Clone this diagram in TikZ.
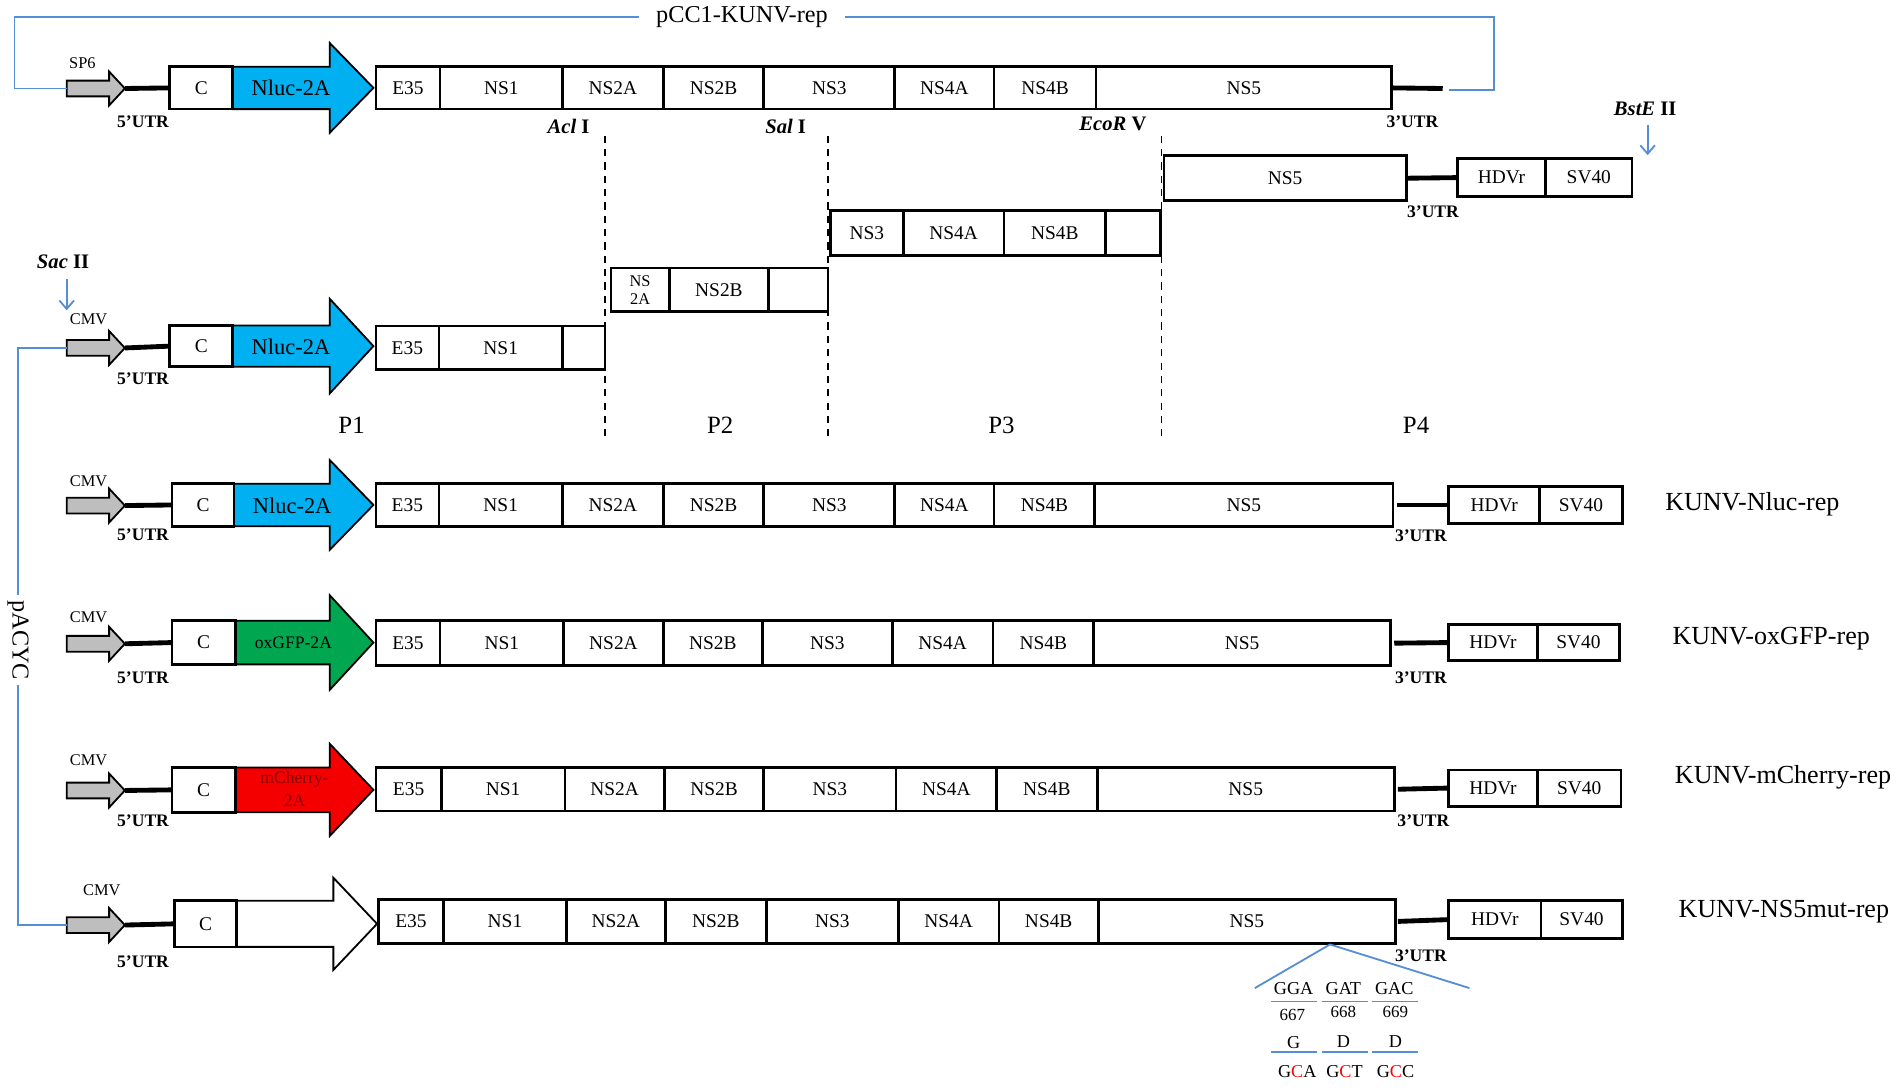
\documentclass[tikz,border=0pt]{standalone}
\usepackage{fontspec}
\setmainfont{Liberation Serif}
\usetikzlibrary{arrows.meta}
\definecolor{lblue}{RGB}{85,142,213}
\definecolor{nluc}{RGB}{0,176,240}
\definecolor{gfp}{RGB}{0,166,80}
\definecolor{cherry}{RGB}{245,0,0}
\definecolor{cherrytxt}{RGB}{140,0,0}
\definecolor{promo}{RGB}{190,190,190}
\tikzset{
  seg/.style={draw, line width=2.2pt, fill=white, inner sep=0pt, outer sep=0pt, anchor=west, font=\fontsize{16}{18}\selectfont},
  utr/.style={line width=4pt},
  utrlab/.style={font=\bfseries\fontsize{14.5}{16}\selectfont},
  promlab/.style={font=\fontsize{13.5}{15}\selectfont},
  bline/.style={draw=lblue, line width=1.5pt},
  bstick/.style={bline, -{Straight Barb[length=7pt,width=12pt]}},
  cutline/.style={line width=1.2pt, dash pattern=on 6pt off 5pt},
  enz/.style={font=\bfseries\fontsize{17}{19}\selectfont},
  plab/.style={font=\fontsize{20.5}{22}\selectfont},
  cname/.style={font=\fontsize{21.5}{24}\selectfont, anchor=west},
  codon/.style={font=\fontsize{15}{17}\selectfont},
  num/.style={font=\fontsize{14}{16}\selectfont},
  repl/.style={font=\fontsize{18.5}{20}\selectfont},
  repls/.style={font=\fontsize{14.5}{16}\selectfont},
}
% gray promoter arrow: name, y
\newcommand\promarrow[2]{%
  \draw[line width=1.5pt, fill=promo] (55,#2-6.5) -- (90,#2-6.5) -- (90,#2-14) -- (103,#2)
     -- (90,#2+14) -- (90,#2+6.5) -- (55,#2+6.5) -- cycle;
  \coordinate (#1-tail) at (55,#2);
  \coordinate (#1-tip) at (103,#2);}
% reporter block arrow: x0, xh, xt, y, half body, half head, fill
\newcommand\reparrow[7]{%
  \draw[line width=1.5pt, fill=#7] (#1,#4-#5) -- (#2,#4-#5) -- (#2,#4-#6) -- (#3,#4)
     -- (#2,#4+#6) -- (#2,#4+#5) -- (#1,#4+#5) -- cycle;}
% row of segments: prefix, y, height, list
\newcommand\generow[4]{%
  \foreach \n/\a/\b/\t in {#4} {
    \node[seg, minimum width={(\b-\a)*1pt}, minimum height=#3 pt] (#1-\n) at (\a,#2) {\t};
  }}
\begin{document}
\begin{tikzpicture}[x=1pt,y=-1pt]
\useasboundingbox[fill=white] (0,0) rectangle (1568,897);

% ================= Row 1: pCC1-KUNV-rep =================
\promarrow{r1p}{73}
\node[promlab] (r1sp6) at (68,52) {SP6};
\reparrow{192}{272}{308}{72.5}{17.5}{37}{nluc}
\node[repl] (r1rep) at (240,72.5) {Nluc-2A};
\node[seg, minimum width=52pt, minimum height=35pt] (r1-c) at (140,72.5) {C};
\generow{r1}{72.5}{35}{e35/310/363/E35, ns1/363/464/NS1, ns2a/464/547/NS2A, ns2b/547/630/NS2B, ns3/630/738/NS3, ns4a/738/820/NS4A, ns4b/820/904/NS4B, ns5/904/1148/NS5}
\coordinate (r1-end) at (1190,73);
\draw[utr] (r1p-tip) -- (r1-c.west);
\draw[utr] (r1-ns5.east) -- (r1-end);
\node[utrlab] (r1u5) at (118,100) {5’UTR};
\node[utrlab] (r1u3) at (1165,100) {3’UTR};
\node[font=\fontsize{20}{22}\selectfont, inner xsep=14pt] (pcc) at (612,14) {pCC1-KUNV-rep};
\coordinate (r1-bend) at (1195,74);
\draw[bline] (r1p-tail) -- (12,73) |- (pcc.west);
\draw[bline] (pcc.east) -| (1232,74) -- (r1-bend);

% enzymes
\node[enz] (acl) at (469,104) {\textit{Acl} I};
\node[enz] (sal) at (648,104) {\textit{Sal} I};
\node[enz] (eco) at (918,102) {\textit{EcoR} V};
\coordinate (d1a) at (499,112); \coordinate (d1b) at (499,362);
\coordinate (d2a) at (683,112); \coordinate (d2b) at (683,362);
\coordinate (d3a) at (958,112); \coordinate (d3b) at (958,362);
\draw[cutline] (d1a) -- (d1b);
\draw[cutline] (d2a) -- (d2b);
\draw[cutline] (d3a) -- (d3b);

% ================= Fragment P4 =================
\generow{f4}{147}{37}{ns5/960/1160/NS5}
\generow{f4}{146.5}{31}{hdv/1202/1275/HDVr, sv/1275/1346/SV40}
\draw[utr] (f4-ns5.east) -- (f4-hdv.west);
\node[utrlab] (f4u3) at (1182,175) {3’UTR};
\node[enz] (bste) at (1357,90) {\textit{BstE} II};
\coordinate (bstetip) at (1359,128);
\draw[bstick] (1359,103) -- (bstetip);

% ================= Fragment P3 =================
\generow{f3}{192}{37}{ns3/685/745/NS3, ns4a/745/828/NS4A, ns4b/828/912/NS4B, x/912/957/}

% ================= Fragment P2 =================
\node[seg, minimum width=48pt, minimum height=36pt, align=center, font=\fontsize{13.5}{15}\selectfont] (f2-ns2a) at (504,239) {NS\\2A};
\generow{f2}{239}{36}{ns2b/552/634/NS2B, x/634/683/}

% ================= Fragment P1 =================
\promarrow{p1p}{287}
\node[promlab] (p1cmv) at (73,263) {CMV};
\node[enz] (sac) at (52,216) {\textit{Sac} II};
\coordinate (sactip) at (55,256);
\draw[bstick] (55,230) -- (sactip);
\reparrow{192}{272}{308}{285.5}{17}{39}{nluc}
\node[repl] (p1rep) at (240,286) {Nluc-2A};
\node[seg, minimum width=52pt, minimum height=34pt] (p1-c) at (140,285.5) {C};
\generow{p1}{287}{36}{e35/310/362/E35, ns1/362/464/NS1, x/464/499/}
\draw[utr] (p1p-tip) -- (p1-c.west);
\node[utrlab] (p1u5) at (118,312) {5’UTR};

\node[plab] (lp1) at (290,351) {P1};
\node[plab] (lp2) at (594,351) {P2};
\node[plab] (lp3) at (826,351) {P3};
\node[plab] (lp4) at (1168,351) {P4};

% ================= Row 3: KUNV-Nluc-rep =================
\promarrow{r3p}{417}
\node[promlab] (r3cmv) at (73,397) {CMV};
\reparrow{193}{272}{308}{416.5}{17.5}{37}{nluc}
\node[repl] (r3rep) at (241,417) {Nluc-2A};
\node[seg, minimum width=51pt, minimum height=35pt] (r3-c) at (142,416.5) {C};
\generow{r3}{416.5}{35}{e35/310/362/E35, ns1/362/464/NS1, ns2a/464/547/NS2A, ns2b/547/630/NS2B, ns3/630/738/NS3, ns4a/738/820/NS4A, ns4b/820/903/NS4B, ns5/903/1149/NS5}
\generow{r3}{416.5}{31}{hdv/1195/1270/HDVr, sv/1270/1338/SV40}
\draw[utr] (r3p-tip) -- (r3-c.west);
\draw[utr] (r3-ns5.east) ++(3,0) -- (r3-hdv.west);
\node[utrlab] (r3u5) at (118,441) {5’UTR};
\node[utrlab] (r3u3) at (1172,442) {3’UTR};
\node[cname] (n3) at (1370,416) {KUNV-Nluc-rep};

% ================= Row 4: KUNV-oxGFP-rep =================
\promarrow{r4p}{531}
\node[promlab] (r4cmv) at (73,509) {CMV};
\reparrow{194}{272}{308}{530}{18}{39}{gfp}
\node[repls] (r4rep) at (242,530) {oxGFP-2A};
\node[seg, minimum width=52pt, minimum height=36pt] (r4-c) at (142,530) {C};
\generow{r4}{530.5}{37}{e35/310/363/E35, ns1/363/465/NS1, ns2a/465/547/NS2A, ns2b/547/629/NS2B, ns3/629/736/NS3, ns4a/736/819/NS4A, ns4b/819/902/NS4B, ns5/902/1147/NS5}
\generow{r4}{530}{30}{hdv/1195/1268/HDVr, sv/1268/1336/SV40}
\draw[utr] (r4p-tip) -- (r4-c.west);
\draw[utr] (r4-ns5.east) ++(3,0) -- (r4-hdv.west);
\node[utrlab] (r4u5) at (118,559) {5’UTR};
\node[utrlab] (r4u3) at (1172,559) {3’UTR};
\node[cname] (n4) at (1376,527) {KUNV-oxGFP-rep};

% ================= Row 5: KUNV-mCherry-rep =================
\promarrow{r5p}{652}
\node[promlab] (r5cmv) at (73,627) {CMV};
\reparrow{194}{272}{308}{651.5}{18.5}{38}{cherry}
\node[font=\fontsize{14.5}{19}\selectfont, text=cherrytxt, align=center] (r5rep) at (243,651) {mCherry-\\2A};
\node[seg, minimum width=52pt, minimum height=37pt] (r5-c) at (142,651.5) {C};
\generow{r5}{651}{36}{e35/310/364/E35, ns1/364/466/NS1, ns2a/466/548/NS2A, ns2b/548/630/NS2B, ns3/630/739/NS3, ns4a/739/822/NS4A, ns4b/822/905/NS4B, ns5/905/1150/NS5}
\generow{r5}{650}{30}{hdv/1195/1268/HDVr, sv/1268/1337/SV40}
\draw[utr] (r5p-tip) -- (r5-c.west);
\draw[utr] (r5-ns5.east) ++(3,0) -- (r5-hdv.west);
\node[utrlab] (r5u5) at (118,677) {5’UTR};
\node[utrlab] (r5u3) at (1174,677) {3’UTR};
\node[cname] (n5) at (1378,641) {KUNV-mCherry-rep};

% ================= Row 6: KUNV-NS5mut-rep =================
\promarrow{r6p}{763}
\node[promlab] (r6cmv) at (84,734) {CMV};
\reparrow{195}{275}{311}{762}{19}{38}{white}
\node[seg, minimum width=51pt, minimum height=38pt] (r6-c) at (144,762) {C};
\generow{r6}{760}{36}{e35/312/366/E35, ns1/366/467/NS1, ns2a/467/549/NS2A, ns2b/549/632/NS2B, ns3/632/741/NS3, ns4a/741/824/NS4A, ns4b/824/906/NS4B, ns5/906/1151/NS5}
\generow{r6}{758.5}{31}{hdv/1195/1271/HDVr, sv/1271/1338/SV40}
\draw[utr] (r6p-tip) -- (r6-c.west);
\draw[utr] (r6-ns5.east) ++(2,0) -- (r6-hdv.west);
\node[utrlab] (r6u5) at (118,793) {5’UTR};
\node[utrlab] (r6u3) at (1172,788) {3’UTR};
\node[cname] (n6) at (1381,752) {KUNV-NS5mut-rep};

% ================= pACYC bracket =================
\node[font=\fontsize{20}{22}\selectfont, rotate=-90, inner xsep=4pt, fill=white] (pacyc) at (15,528) {pACYC};
\draw[bline] (p1p-tail) -| (pacyc.west);
\draw[bline] (pacyc.east) |- (r6p-tail);

% ================= NS5 mutation detail =================
\coordinate (mut) at (1097,779);
\coordinate (mutl) at (1035,815);
\coordinate (mutr) at (1212,815);
\draw[bline] (mut) -- (mutl);
\draw[bline] (mut) -- (mutr);
\node[codon] (c1) at (1067,815) {GGA};
\node[codon] (c2) at (1108,815) {GAT};
\node[codon] (c3) at (1150,815) {GAC};
\draw[bline] (1048,826) -- (1086,826);
\draw[bline] (1090,826) -- (1128,826);
\draw[bline] (1132,826) -- (1170,826);
\node[num] (k1) at (1066,837) {667};
\node[num] (k2) at (1108,835) {668};
\node[num] (k3) at (1151,835) {669};
\node[codon] (a1) at (1067,860) {G};
\node[codon] (a2) at (1108,859) {D};
\node[codon] (a3) at (1151,859) {D};
\draw[bline] (1048,868) -- (1086,868);
\draw[bline] (1090,868) -- (1128,868);
\draw[bline] (1132,868) -- (1170,868);
\node[codon] (m1) at (1070,884) {G\textcolor{red}{C}A};
\node[codon] (m2) at (1109,884) {G\textcolor{red}{C}T};
\node[codon] (m3) at (1151,884) {G\textcolor{red}{C}C};
\end{tikzpicture}
\end{document}
